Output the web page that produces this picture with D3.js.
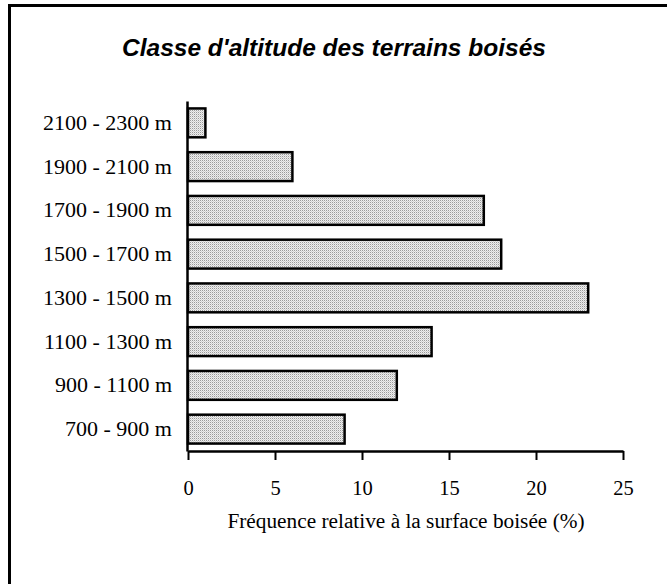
<!DOCTYPE html>
<html>
<head>
<meta charset="utf-8">
<script src="https://cdn.jsdelivr.net/npm/d3@7/dist/d3.min.js"></script>
<style>
  html, body { margin: 0; padding: 0; background: #fff; }
  svg { display: block; }
</style>
</head>
<body>
<svg id="chart" width="667" height="584"></svg>
<script>
const categories = ["2100 - 2300 m", "1900 - 2100 m", "1700 - 1900 m", "1500 - 1700 m",
                    "1300 - 1500 m", "1100 - 1300 m", "900 - 1100 m", "700 - 900 m"];
const values = [1, 6, 17, 18, 23, 14, 12, 9];
const xTicks = [0, 5, 10, 15, 20, 25];
const title = "Classe d'altitude des terrains boisés";
const xTitle = "Fréquence relative à la surface boisée (%)";

const svg = d3.select("#chart");

// pattern for stippled fill
const defs = svg.append("defs");
const pat = defs.append("pattern").attr("id", "stip")
  .attr("patternUnits", "userSpaceOnUse").attr("width", 2).attr("height", 2);
pat.append("rect").attr("width", 2).attr("height", 2).attr("fill", "#eeeeee");
pat.append("rect").attr("x", 0).attr("y", 0).attr("width", 1).attr("height", 1).attr("fill", "#9a9a9a");
pat.append("rect").attr("x", 1).attr("y", 1).attr("width", 1).attr("height", 1).attr("fill", "#d0d0d0");

// outer frame
svg.append("rect").attr("x", 9.5).attr("y", 5.5).attr("width", 700).attr("height", 700)
  .attr("fill", "none").attr("stroke", "#000").attr("stroke-width", 3);

const x = d3.scaleLinear().domain([0, 25]).range([188, 623]);
const y = d3.scaleBand().domain(categories).range([101, 451]).paddingInner(0.34).paddingOuter(0.17);

// title
svg.append("text").attr("x", 334).attr("y", 56).attr("text-anchor", "middle")
  .attr("font-family", "Liberation Sans, Arial, sans-serif").attr("font-weight", "bold")
  .attr("font-style", "italic").attr("font-size", 24.5).text(title);

// bars
svg.append("g").selectAll("rect").data(values).join("rect")
  .attr("x", x(0))
  .attr("y", (d, i) => y(categories[i]))
  .attr("width", d => x(d) - x(0))
  .attr("height", y.bandwidth())
  .attr("fill", "url(#stip)")
  .attr("stroke", "#000").attr("stroke-width", 2.5);

// x axis
const xAxis = svg.append("g").attr("transform", "translate(0,451)")
  .call(d3.axisBottom(x).tickValues(xTicks).tickSize(9).tickSizeOuter(0).tickPadding(20));
xAxis.select(".domain").attr("stroke-width", 2.5);
xAxis.selectAll(".tick line").attr("stroke-width", 2);
xAxis.selectAll(".tick text").attr("font-family", "Liberation Serif, Times New Roman, serif")
  .attr("font-size", 20.5).attr("fill", "#000");

// y axis
const yAxis = svg.append("g").attr("transform", "translate(187,0)")
  .call(d3.axisLeft(y).tickSize(0).tickPadding(15));
yAxis.select(".domain").attr("stroke-width", 2.5);
yAxis.selectAll(".tick text").attr("font-family", "Liberation Serif, Times New Roman, serif")
  .attr("font-size", 22).attr("fill", "#000");

// x title
svg.append("text").attr("x", 406).attr("y", 528).attr("text-anchor", "middle")
  .attr("font-family", "Liberation Serif, Times New Roman, serif")
  .attr("font-size", 21.3).text(xTitle);
</script>
</body>
</html>
